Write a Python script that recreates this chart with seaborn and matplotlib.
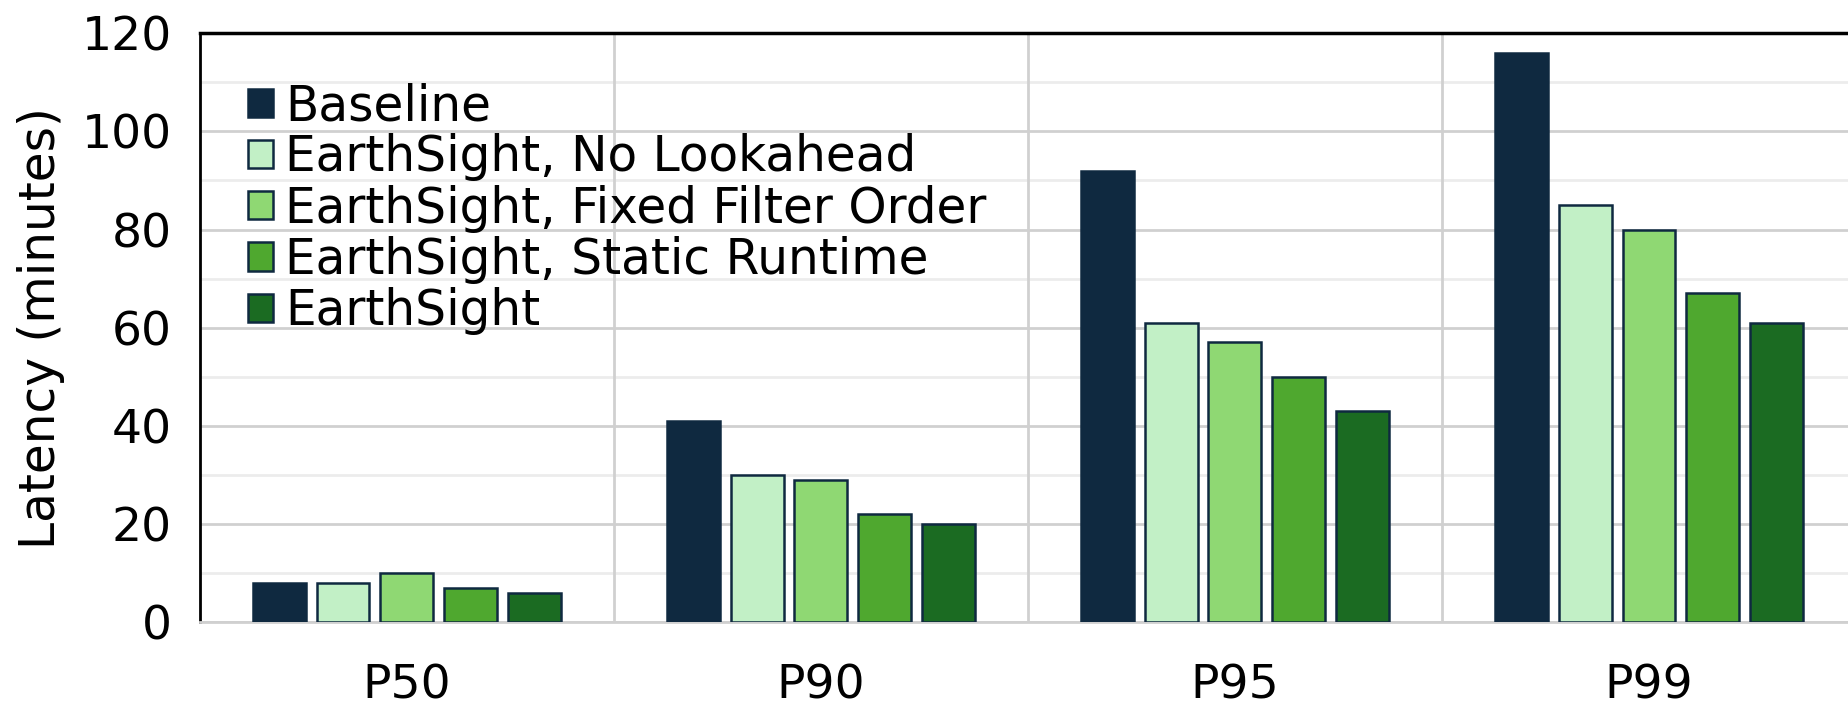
import pandas as pd
import matplotlib.pyplot as plt
import seaborn as sns
from matplotlib.ticker import MultipleLocator

percentiles = ["P50", "P90", "P95", "P99"]
systems = [
    "Baseline",
    "EarthSight, No Lookahead",
    "EarthSight, Fixed Filter Order",
    "EarthSight, Static Runtime",
    "EarthSight",
]
baseline = [8, 41, 92, 116]
no_lookahead = [8, 30, 61, 85]
fixed_order = [10, 29, 57, 80]
static_runtime = [7, 22, 50, 67]
earthsight = [6, 20, 43, 61]
colors = ["#0f2940", "#c2f0c6", "#8fd873", "#4fa82f", "#1b6b22"]

rows = []
for name, vals in zip(systems, [baseline, no_lookahead, fixed_order, static_runtime, earthsight]):
    for p, v in zip(percentiles, vals):
        rows.append({"Percentile": p, "System": name, "Latency": v})
df = pd.DataFrame(rows)

sns.set_theme(style="white")
plt.rcParams["font.family"] = ["DejaVu Sans"]
plt.rcParams["text.color"] = "black"
plt.rcParams["xtick.color"] = "black"
plt.rcParams["ytick.color"] = "black"
plt.rcParams["axes.labelcolor"] = "black"

fig = plt.figure(figsize=(18.49, 7.08), dpi=100)
ax = fig.add_axes([0.108, 0.1215, 0.892, 0.8315])

sns.barplot(data=df, x="Percentile", y="Latency", hue="System", hue_order=systems,
            palette=colors, width=0.77, gap=0.17, edgecolor="#0f2940", linewidth=1.8,
            saturation=1, ax=ax, zorder=3)

ax.set_ylim(0, 120)
ax.set_xlim(-0.5, 3.483)
ax.yaxis.set_major_locator(MultipleLocator(20))
ax.yaxis.set_minor_locator(MultipleLocator(10))
ax.grid(axis="y", which="major", color="#d0d0d0", linewidth=2, zorder=0)
ax.grid(axis="y", which="minor", color="#ececec", linewidth=2, zorder=0)
ax.set_axisbelow(True)
for xv in [0.5, 1.5, 2.5]:
    ax.axvline(xv, color="#d0d0d0", linewidth=2, zorder=1)

ax.spines["left"].set_color("black")
ax.spines["left"].set_linewidth(2)
ax.spines["top"].set_color("black")
ax.spines["top"].set_linewidth(2.5)
ax.spines["bottom"].set_color("#d0d0d0")
ax.spines["bottom"].set_linewidth(2)
ax.spines["right"].set_visible(False)

ax.tick_params(axis="both", which="both", length=0, labelsize=34)
ax.tick_params(axis="x", pad=30)
ax.tick_params(axis="y", pad=20)
ax.set_xlabel("")
ax.set_ylabel("Latency (minutes)", fontsize=35, labelpad=12)

handles, labels = ax.get_legend_handles_labels()
ax.legend(handles, labels, loc="upper left", bbox_to_anchor=(0.029, 0.917),
          frameon=False, fontsize=35, handlelength=0.52, handleheight=0.52,
          handletextpad=0.25, labelspacing=0.066, borderpad=0, borderaxespad=0)

fig.savefig("out.png", dpi=100)
